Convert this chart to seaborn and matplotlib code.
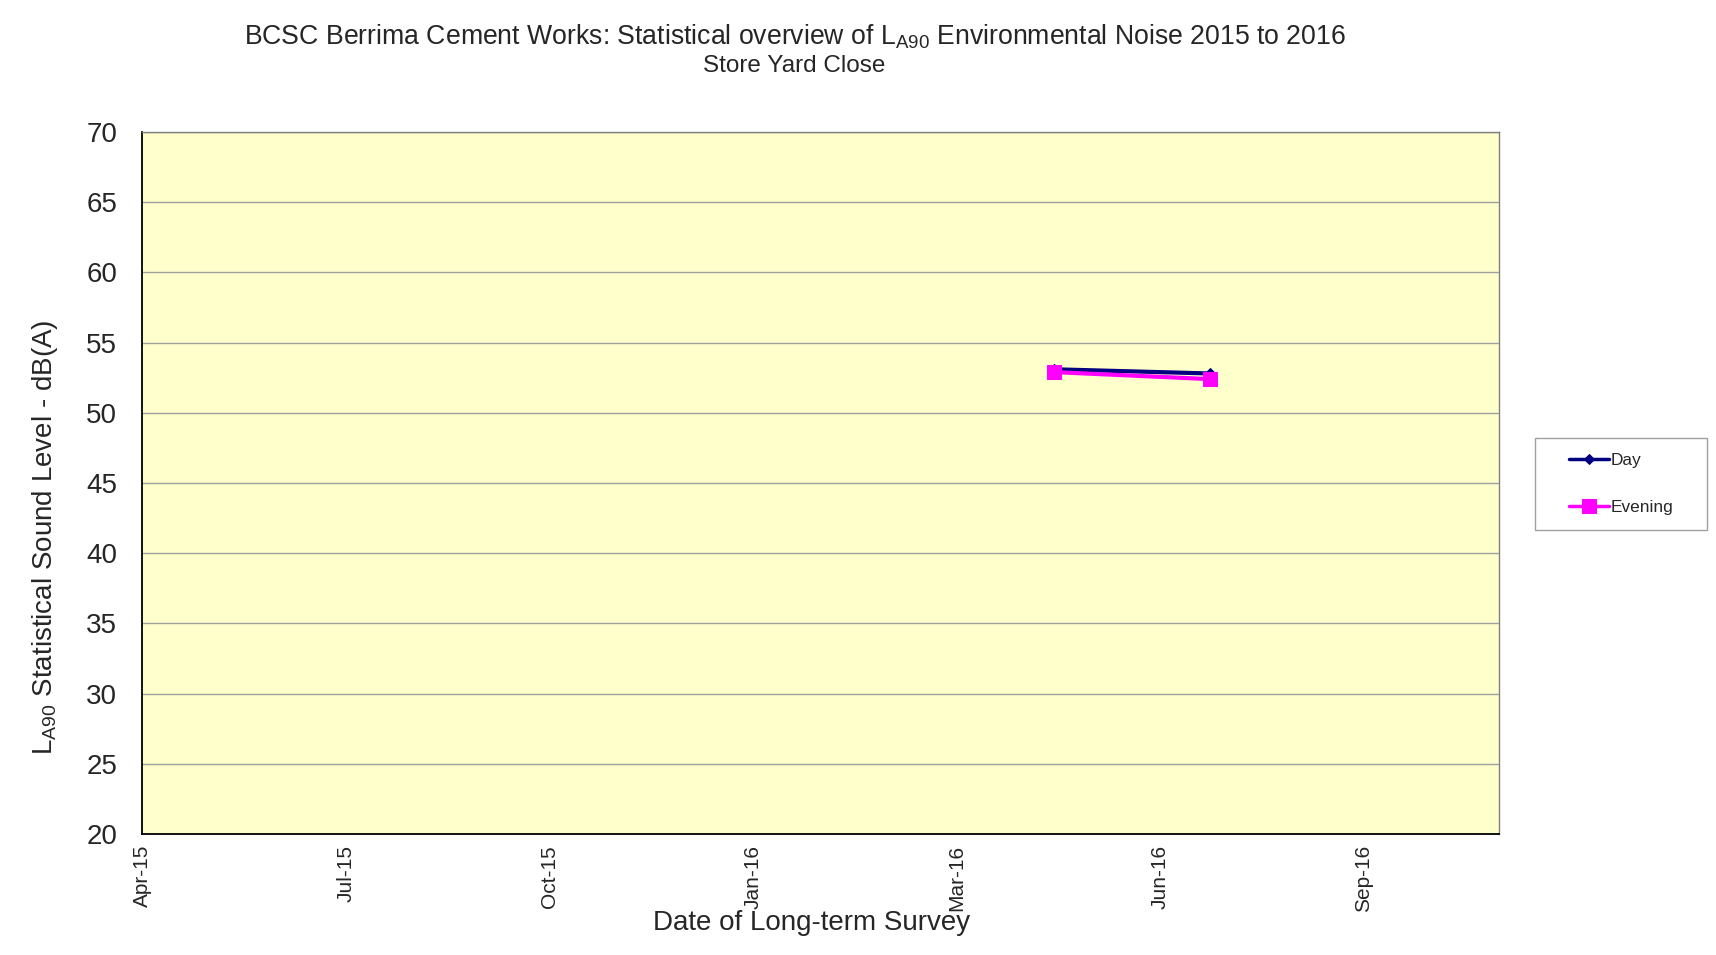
import matplotlib
matplotlib.use("Agg")
import matplotlib.pyplot as plt
from matplotlib.patches import Rectangle
import seaborn as sns
import pandas as pd

# ---- data ----
survey_dates = ["2016-05-13", "2016-07-21"]
day_values = [53.1, 52.8]
evening_values = [52.9, 52.4]
tick_dates = ["2015-04-06", "2015-07-05", "2015-10-03", "2016-01-01",
              "2016-03-31", "2016-06-29", "2016-09-27"]
tick_labels = ["Apr-15", "Jul-15", "Oct-15", "Jan-16", "Mar-16", "Jun-16", "Sep-16"]
x_limits = ["2015-04-06", "2016-11-26"]
y_ticks = list(range(20, 75, 5))

df = pd.DataFrame({
    "date": pd.to_datetime(survey_dates * 2),
    "level": day_values + evening_values,
    "series": ["Day"] * len(day_values) + ["Evening"] * len(evening_values),
})

sns.set_theme(style="white")
plt.rcParams["font.family"] = ["Liberation Sans", "DejaVu Sans"]
plt.rcParams["mathtext.fontset"] = "custom"
plt.rcParams["mathtext.rm"] = "Liberation Sans"
plt.rcParams["mathtext.it"] = "Liberation Sans"

fig = plt.figure(figsize=(17.16, 9.55), dpi=100)
ax = fig.add_axes([0.0828, 0.1267, 0.7908, 0.7351])
ax.set_facecolor("#FFFFCC")

palette = {"Day": "#000080", "Evening": "#FF00FF"}
markers = {"Day": "D", "Evening": "s"}
sizes_m = {"Day": 5, "Evening": 10}
for name in ["Day", "Evening"]:
    sub = df[df["series"] == name]
    sns.lineplot(data=sub, x="date", y="level", ax=ax, color=palette[name],
                 marker=markers[name], markersize=sizes_m[name],
                 markeredgecolor=palette[name], linewidth=3.0,
                 label=name, legend=False, zorder=3)

ax.set_xlim(pd.to_datetime(x_limits[0]), pd.to_datetime(x_limits[1]))
ax.set_ylim(20, 70)
ax.set_yticks(y_ticks)
ax.set_yticklabels([str(v) for v in y_ticks], fontsize=20)
ax.set_xticks(pd.to_datetime(tick_dates))
ax.set_xticklabels(tick_labels, rotation=90, fontsize=15)
ax.tick_params(axis="both", direction="out", length=6, width=1.2, color="#B0B0B0")
ax.tick_params(axis="x", pad=2)
ax.tick_params(axis="y", pad=12)

ax.grid(axis="y", color="#A0A0A0", linewidth=1)
ax.grid(axis="x", visible=False)
ax.set_axisbelow(True)

for side in ["top", "right"]:
    ax.spines[side].set_color("#808080")
    ax.spines[side].set_linewidth(1)
for side in ["left", "bottom"]:
    ax.spines[side].set_color("black")
    ax.spines[side].set_linewidth(1.3)

ax.set_xlabel("")
ax.set_ylabel("")

fig.text(0.463, 0.962,
         r"BCSC Berrima Cement Works: Statistical overview of L$_{\mathregular{A90}}$ Environmental Noise 2015 to 2016",
         ha="center", va="center", fontsize=19.2)
fig.text(0.463, 0.931, "Store Yard Close", ha="center", va="center", fontsize=17.5)
fig.text(0.473, 0.034, "Date of Long-term Survey", ha="center", va="center", fontsize=20)
fig.text(0.026, 0.437, r"L$_{\mathregular{A90}}$ Statistical Sound Level - dB(A)",
         ha="center", va="center", rotation=90, fontsize=20)

# legend box (drawn as a figure rectangle) and legend entries
fig.patches.append(Rectangle((0.8945, 0.445), 0.1003, 0.0964, transform=fig.transFigure,
                             facecolor="white", edgecolor="#A0A0A0", linewidth=1,
                             zorder=0))
handles, labels = ax.get_legend_handles_labels()
leg = fig.legend(handles, labels, loc="center", bbox_to_anchor=(0.9447, 0.4935),
                 frameon=False, fontsize=12.4, borderpad=0,
                 labelspacing=1.85, handlelength=2.3, handletextpad=0.1,
                 borderaxespad=0)
for h in leg.legend_handles:
    h.set_linewidth(2.5)

fig.savefig("out.png", dpi=100)
